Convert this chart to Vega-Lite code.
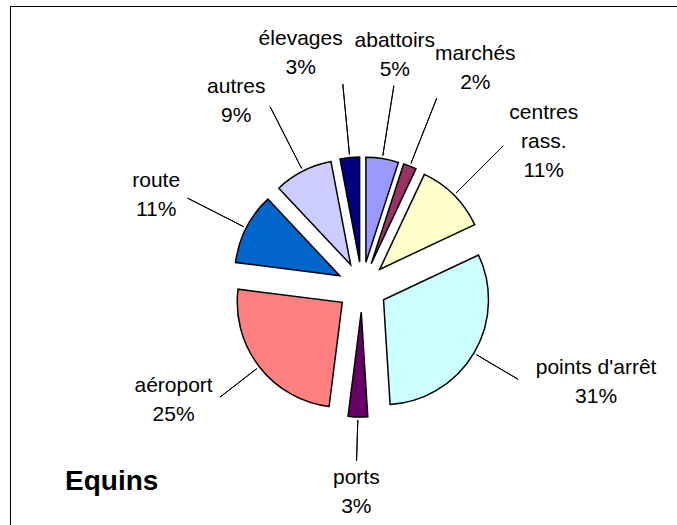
{
  "$schema": "https://vega.github.io/schema/vega-lite/v6.json",
  "width": 667,
  "height": 519,
  "autosize": {"type": "none"},
  "padding": {"left": 10, "top": 6, "right": 0, "bottom": 0},
  "background": "white",
  "view": {"stroke": "black", "strokeWidth": 1, "strokeDash": [667, 1186, 519]},
  "params": [
    {"name": "cx", "value": 352},
    {"name": "cy", "value": 281}
  ],
  "config": {
    "view": {"stroke": "black", "strokeWidth": 1},
    "font": "Liberation Sans"
  },
  "title": {
    "text": "Equins",
    "orient": "top",
    "anchor": "start",
    "frame": "group",
    "font": "Liberation Sans",
    "fontSize": 28,
    "fontWeight": "bold",
    "color": "black",
    "baseline": "alphabetic",
    "dx": 55,
    "dy": 516
  },
  "data": {
    "values": [
      {"k": 1, "cat": "abattoirs", "pct": 5, "lab": "abattoirs\n5%"},
      {"k": 2, "cat": "marchés", "pct": 2, "lab": "marchés\n2%"},
      {"k": 3, "cat": "centres rass.", "pct": 11, "lab": "centres\nrass.\n11%"},
      {"k": 4, "cat": "points d'arrêt", "pct": 31, "lab": "points d'arrêt\n31%"},
      {"k": 5, "cat": "ports", "pct": 3, "lab": "ports\n3%"},
      {"k": 6, "cat": "aéroport", "pct": 25, "lab": "aéroport\n25%"},
      {"k": 7, "cat": "route", "pct": 11, "lab": "route\n11%"},
      {"k": 8, "cat": "autres", "pct": 9, "lab": "autres\n9%"},
      {"k": 9, "cat": "élevages", "pct": 3, "lab": "élevages\n3%"}
    ]
  },
  "transform": [
    {"stack": "pct", "groupby": [], "sort": [{"field": "k", "order": "ascending"}], "as": ["s0", "s1"]}
  ],
  "layer": [
    {
      "mark": {
        "type": "arc",
        "outerRadius": 105,
        "stroke": "black",
        "strokeWidth": 1.5,
        "strokeJoin": "miter",
        "x": {"expr": "cx + 25*sin(PI*(datum.s0+datum.s1)/100)"},
        "y": {"expr": "cy - 25*cos(PI*(datum.s0+datum.s1)/100)"}
      },
      "encoding": {
        "theta": {"field": "s0", "type": "quantitative", "scale": {"domain": [0, 100]}},
        "theta2": {"field": "s1"},
        "color": {
          "field": "cat",
          "type": "nominal",
          "legend": null,
          "scale": {
            "domain": ["abattoirs", "marchés", "centres rass.", "points d'arrêt", "ports", "aéroport", "route", "autres", "élevages"],
            "range": ["#9999FF", "#993366", "#FFFFCC", "#CCFFFF", "#660066", "#FF8080", "#0066CC", "#CCCCFF", "#000080"]
          }
        }
      }
    },
    {
      "mark": {
        "type": "arc",
        "filled": false,
        "stroke": "black",
        "strokeWidth": 1,
        "padAngle": 3,
        "innerRadius": 133,
        "outerRadius": {"expr": "189 + 15*cos(PI*(datum.s0+datum.s1)/100)"},
        "x": {"expr": "cx"},
        "y": {"expr": "cy"}
      },
      "encoding": {
        "theta": {"field": "s0", "type": "quantitative"},
        "theta2": {"field": "s1"}
      }
    },
    {
      "mark": {
        "type": "text",
        "font": "Liberation Sans",
        "fontSize": 21,
        "lineHeight": 29,
        "lineBreak": "\n",
        "color": "black",
        "align": "center",
        "x": {"expr": "cx + (195 + 15*cos(PI*(datum.s0+datum.s1)/100))*sin(PI*(datum.s0+datum.s1)/100)"},
        "y": {"expr": "cy - (195 + 15*cos(PI*(datum.s0+datum.s1)/100))*cos(PI*(datum.s0+datum.s1)/100)"},
        "dx": {"expr": "(sin(PI*(datum.s0+datum.s1)/100) > 0.3 ? 1 : (sin(PI*(datum.s0+datum.s1)/100) < -0.05 ? -1 : 0)) * 5.2 * length(split(datum.lab, '\\n')[0])"},
        "baseline": {"expr": "cos(PI*(datum.s0+datum.s1)/100) > 0.9 ? 'bottom' : (cos(PI*(datum.s0+datum.s1)/100) < -0.9 ? 'top' : 'middle')"},
        "dy": {"expr": "(cos(PI*(datum.s0+datum.s1)/100) > 0.9 ? -1 : (cos(PI*(datum.s0+datum.s1)/100) < -0.9 ? 0 : -0.5)) * 29 * (length(split(datum.lab, '\\n')) - 1)"}
      },
      "encoding": {
        "text": {"field": "lab", "type": "nominal"}
      }
    }
  ]
}
